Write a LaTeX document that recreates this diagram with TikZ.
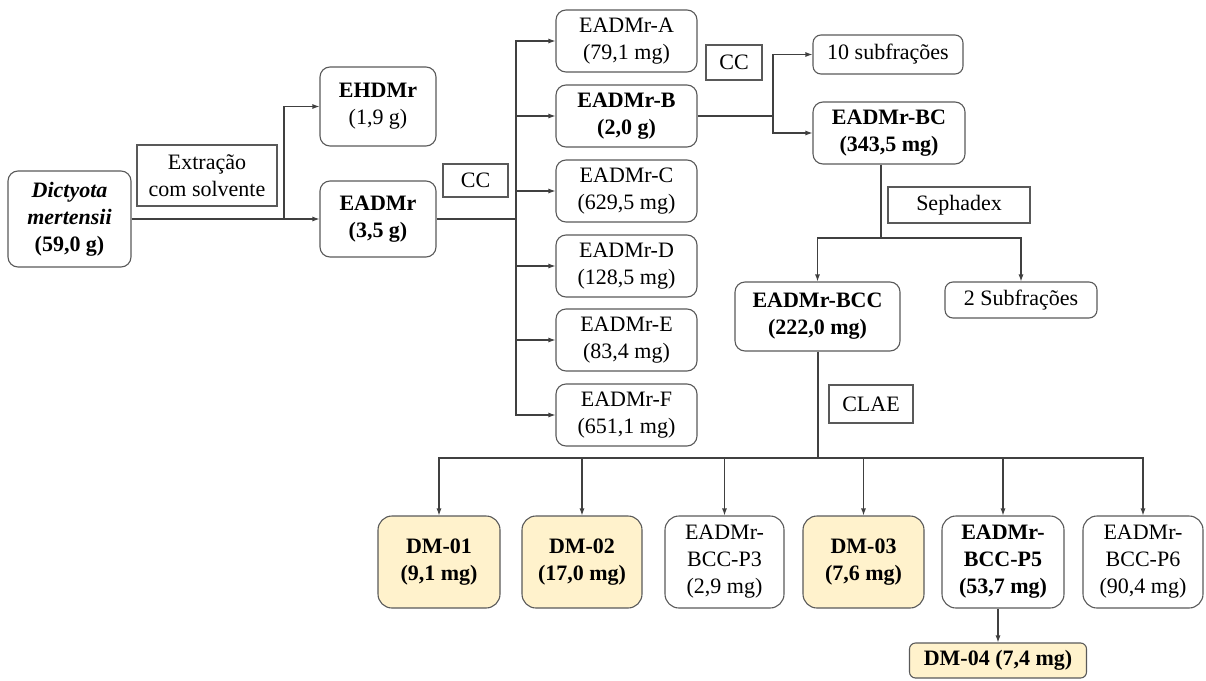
\documentclass[tikz,border=0pt]{standalone}
\usepackage{fontspec}
\setmainfont{LiberationSerif}[Extension=.ttf, UprightFont=*-Regular, BoldFont=*-Bold, ItalicFont=*-Italic, BoldItalicFont=*-BoldItalic]
\usetikzlibrary{arrows.meta}
\definecolor{boxline}{HTML}{595959}
\definecolor{conn}{HTML}{404040}
\definecolor{gold}{HTML}{FFF2CC}
\begin{document}
\begin{tikzpicture}[x=1pt,y=-1pt,
  every node/.style={font=\fontsize{22}{27}\selectfont, text=black, inner sep=0pt, align=center},
  rbox/.style={draw=boxline, line width=1.1pt, rounded corners=10pt},
  sbox/.style={draw=boxline, line width=1.1pt},
  rbig/.style={draw=boxline, line width=1.1pt, rounded corners=14pt, minimum height=92pt},
  dmbox/.style={rbig, fill=gold},
  link/.style={draw=conn, line width=1.1pt},
  arr/.style={link, -{Latex[length=7pt,width=5pt]}}
]
\useasboundingbox (0,0) rectangle (1206,680);

% nodes
\node[rbox, minimum width=123pt, minimum height=96pt] (dict) at (69.5,219)
  {\textbf{\textit{Dictyota}}\\\textbf{\textit{mertensii}}\\\textbf{(59,0 g)}};
\node[sbox, minimum width=140pt, minimum height=61pt] (extr) at (207,175.5) {Extração\\com solvente};
\node[rbox, minimum width=116pt, minimum height=79pt] (ehd) at (378,106.5) {\textbf{EHDMr}\\(1,9 g)};
\node[rbox, minimum width=116pt, minimum height=76pt] (ead) at (378,219) {\textbf{EADMr}\\\textbf{(3,5 g)}};
\node[sbox, minimum width=65pt, minimum height=33pt] (cc1) at (475.5,180.5) {CC};

\node[rbox, minimum width=141pt, minimum height=62pt] (fa) at (626.5,41) {EADMr-A\\(79,1 mg)};
\node[rbox, minimum width=141pt, minimum height=62pt] (fb) at (626.5,116) {\textbf{EADMr-B}\\\textbf{(2,0 g)}};
\node[rbox, minimum width=141pt, minimum height=62pt] (fc) at (626.5,191) {EADMr-C\\(629,5 mg)};
\node[rbox, minimum width=141pt, minimum height=62pt] (fd) at (626.5,266) {EADMr-D\\(128,5 mg)};
\node[rbox, minimum width=141pt, minimum height=62pt] (fe) at (626.5,340) {EADMr-E\\(83,4 mg)};
\node[rbox, minimum width=141pt, minimum height=62pt] (ff) at (626.5,415) {EADMr-F\\(651,1 mg)};

\node[sbox, minimum width=56pt, minimum height=35pt] (cc2) at (734,62.5) {CC};
\node[rbox, minimum width=150pt, minimum height=39pt, rounded corners=8pt] (sub10) at (888,54.5) {10 subfrações};
\node[rbox, minimum width=152pt, minimum height=62pt] (bc) at (889,133) {\textbf{EADMr-BC}\\\textbf{(343,5 mg)}};
\node[sbox, minimum width=142pt, minimum height=36pt] (seph) at (959,205) {Sephadex};
\node[rbox, minimum width=165pt, minimum height=69pt] (bcc) at (817.5,316.5) {\textbf{EADMr-BCC}\\\textbf{(222,0 mg)}};
\node[rbox, minimum width=152pt, minimum height=36pt, rounded corners=8pt] (sub2) at (1021,300) {2 Subfrações};
\node[sbox, minimum width=84pt, minimum height=38pt] (clae) at (871,404) {CLAE};

\node[dmbox, minimum width=122pt] (dm1) at (439,562) {\textbf{DM-01}\\\textbf{(9,1 mg)}};
\node[dmbox, minimum width=120pt] (dm2) at (582,562) {\textbf{DM-02}\\\textbf{(17,0 mg)}};
\node[rbig, minimum width=119pt] (p3) at (724.5,562) {EADMr-\\BCC-P3\\(2,9 mg)};
\node[dmbox, minimum width=121pt] (dm3) at (863.5,562) {\textbf{DM-03}\\\textbf{(7,6 mg)}};
\node[rbig, minimum width=122pt] (p5) at (1003,562) {\textbf{EADMr-}\\\textbf{BCC-P5}\\\textbf{(53,7 mg)}};
\node[rbig, minimum width=120pt] (p6) at (1143,562) {EADMr-\\BCC-P6\\(90,4 mg)};
\node[rbox, fill=gold, minimum width=177pt, minimum height=35pt, rounded corners=6pt] (dm4) at (998,660.5) {\textbf{DM-04 (7,4 mg)}};

% junctions
\coordinate (j1) at (284,219);
\coordinate (j2) at (516,219);
\coordinate (j3) at (773,116);
\coordinate (j4) at (881,238);
\coordinate (j5) at (818,458);

% connectors
\draw[link] (dict.east) -- (j1);
\draw[arr] (j1) |- (ehd.west);
\draw[arr] (j1) -- (ead.west);

\draw[link] (ead.east) -- (j2);
\foreach \f in {fa,fb,fc,fd,fe,ff} { \draw[arr] (j2) |- (\f.west); }

\draw[link] (fb.east) -- (j3);
\draw[arr] (j3) |- (sub10.west);
\draw[arr] (j3) |- (bc.west);

\draw[link] (bc.south -| j4) -- (j4);
\draw[arr] (j4) -| (bcc.north);
\draw[arr] (j4) -| (sub2.north);

\draw[link] (bcc.south -| j5) -- (j5);
\foreach \f in {dm1,dm2,p3,dm3,p5,p6} { \draw[arr] (j5) -| (\f.north); }

\draw[arr] (p5.south -| dm4.north) -- (dm4.north);
\end{tikzpicture}
\end{document}
